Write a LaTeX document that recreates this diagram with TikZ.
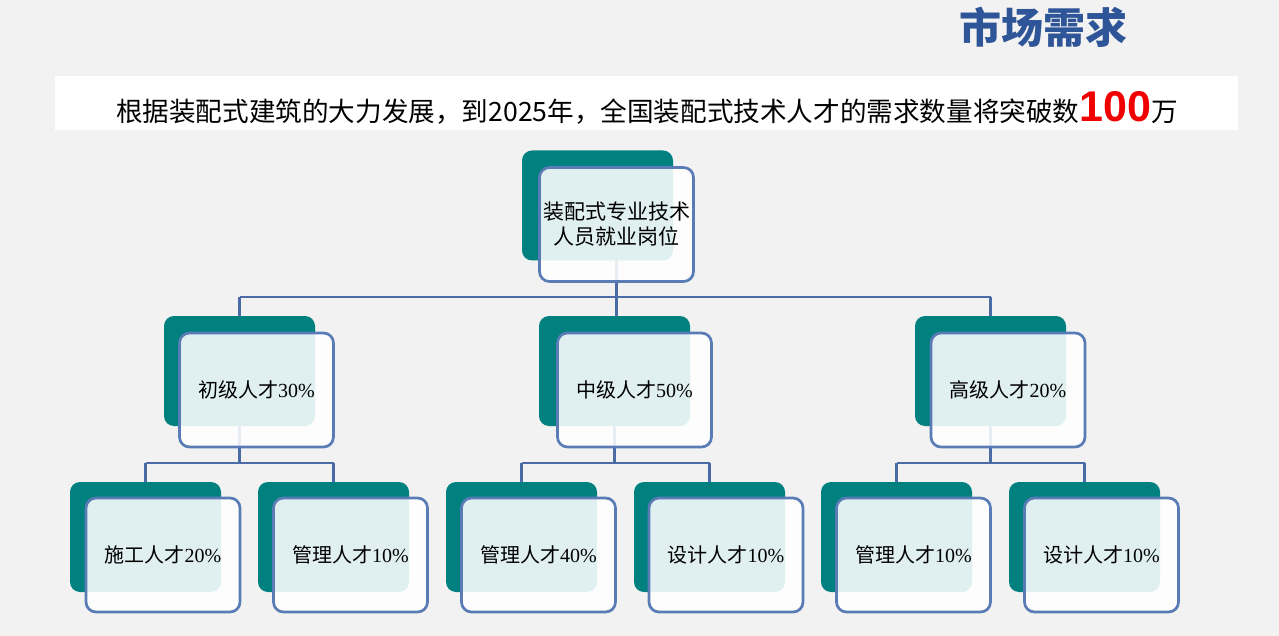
\documentclass[tikz,border=0pt]{standalone}
\usepackage{fontspec}
\setmainfont{Liberation Serif}
\newfontfamily\cjk{Noto Sans CJK SC}
\newfontfamily\arialb{Liberation Sans}
\definecolor{bg}{HTML}{F2F2F2}
\definecolor{tealA}{HTML}{00807F}
\definecolor{bord}{HTML}{5A7CB6}
\definecolor{connc}{HTML}{4A6BA6}
\definecolor{ttl}{HTML}{2E5597}
\definecolor{bigred}{HTML}{F00000}
\pgfdeclarelayer{bglayer}
\pgfdeclarelayer{connlayer}
\pgfsetlayers{bglayer,connlayer,main}
\tikzset{
  back/.style={fill=tealA, rounded corners=10pt, minimum width=151pt, minimum height=110pt, inner sep=0pt},
  front/.style={draw=bord, line width=2.7pt, fill=white, fill opacity=0.88, text opacity=1,
     rounded corners=10pt, minimum width=154pt, minimum height=114pt, inner sep=2pt,
     font=\fontsize{20}{24}\selectfont, text=black, align=center},
  link/.style={draw=connc, line width=2.5pt}
}
\begin{document}
\begin{tikzpicture}[x=1pt,y=-1pt]
\useasboundingbox (0,0) rectangle (1279,636);
\begin{pgfonlayer}{bglayer}
\fill[bg] (0,0) rectangle (1279,636);
\fill[white] (55,76) rectangle (1238,130);
\end{pgfonlayer}
% title and banner
\node[anchor=base, text=ttl, inner sep=0pt, font=\cjk\bfseries\fontsize{42}{42}\selectfont] (title) at (1043.5,43.5) {市场需求};
\node[anchor=base, inner sep=0pt, font=\cjk\fontsize{26.6}{27}\selectfont] (banner) at (647,122)
  {根据装配式建筑的大力发展，到2025年，全国装配式技术人才的需求数量将突破数{\arialb\bfseries\color{bigred}\fontsize{43}{43}\selectfont 100}万};
% back boxes
\node[back] (t0) at (597.5,205.5) {};
\node[back] (tA) at (239.5,371) {};
\node[back] (tB) at (614.5,371) {};
\node[back] (tC) at (990.5,371) {};
\node[back] (tA1) at (145.5,537) {};
\node[back] (tA2) at (333.5,537) {};
\node[back] (tB1) at (521.5,537) {};
\node[back] (tB2) at (709.5,537) {};
\node[back] (tC1) at (896.5,537) {};
\node[back] (tC2) at (1084.5,537) {};
% front boxes
\node[front, font=\cjk\fontsize{21}{25}\selectfont] (f0) at (616.5,224.5) {装配式专业技术\\人员就业岗位};
\node[front] (fA) at (256.5,390) {{\cjk 初级人才}30\%};
\node[front] (fB) at (634.5,390) {{\cjk 中级人才}50\%};
\node[front] (fC) at (1008,390) {{\cjk 高级人才}20\%};
\node[front] (fA1) at (163,555) {{\cjk 施工人才}20\%};
\node[front] (fA2) at (350.5,555) {{\cjk 管理人才}10\%};
\node[front] (fB1) at (538.5,555) {{\cjk 管理人才}40\%};
\node[front] (fB2) at (726,555) {{\cjk 设计人才}10\%};
\node[front] (fC1) at (913.5,555) {{\cjk 管理人才}10\%};
\node[front] (fC2) at (1101.5,555) {{\cjk 设计人才}10\%};
% bus coordinates
\coordinate (bus1) at (0,297);
\coordinate (bus2) at (0,463);
% connectors (behind the boxes)
\begin{pgfonlayer}{connlayer}
\draw[link] (f0.center) -- (f0.center |- tB.center);
\draw[link] (tA.center |- bus1) -- (tC.center |- bus1);
\draw[link] (tA.center |- bus1) -- (tA.center);
\draw[link] (tC.center |- bus1) -- (tC.center);
\foreach \p/\l/\r in {tA/tA1/tA2, tB/tB1/tB2, tC/tC1/tC2}{
  \draw[link] (\p.center) -- (\p.center |- bus2);
  \draw[link] (\l.center |- bus2) -- (\r.center |- bus2);
  \draw[link] (\l.center |- bus2) -- (\l.center);
  \draw[link] (\r.center |- bus2) -- (\r.center);
}
\end{pgfonlayer}
\end{tikzpicture}
\end{document}
